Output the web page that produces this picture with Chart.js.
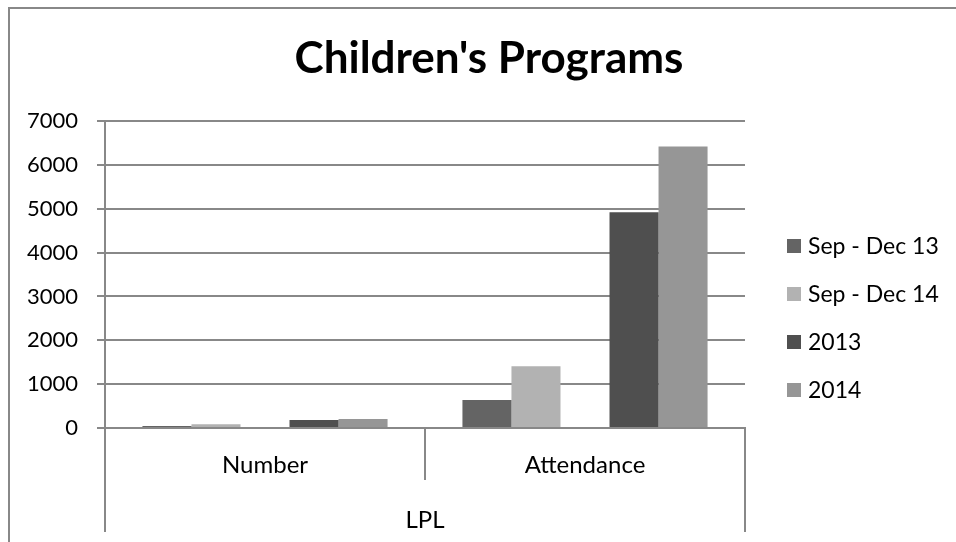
<!DOCTYPE html>
<html>
<head>
<meta charset="utf-8">
<script src="https://cdn.jsdelivr.net/npm/chart.js@4.4.0/dist/chart.umd.min.js"></script>
<style>
  html, body { margin: 0; padding: 0; background: #fff; }
  #wrap { position: relative; width: 956px; height: 542px; overflow: hidden; }
  #frame { position: absolute; left: 8px; top: 7px; width: 1000px; height: 600px; border-left: 2px solid #888; border-top: 2px solid #888; }
  #c { position: absolute; left: 0; top: 0; }
</style>
</head>
<body>
<div id="wrap">
  <div id="frame"></div>
  <canvas id="c" width="956" height="542"></canvas>
</div>
<script>
const titleText = "Children's Programs";
const groupLabel = 'LPL';
const categories = ['Number', 'Attendance'];
const seriesNames = ['Sep - Dec 13', 'Sep - Dec 14', '2013', '2014'];
const sepDec13 = [45, 640];
const sepDec14 = [85, 1410];
const year2013 = [180, 4920];
const year2014 = [205, 6420];
const seriesColors = ['#646464', '#b2b2b2', '#4f4f4f', '#969696'];
const yTicks = [0, 1000, 2000, 3000, 4000, 5000, 6000, 7000];

const FONT = 'Lato, "Noto Sans", sans-serif';
const seriesData = [sepDec13, sepDec14, year2013, year2014];

// the source sheet has an empty column between the two pairs
const datasets = [];
seriesData.forEach(function (d, i) {
    if (i === 2) {
        datasets.push({ label: '', data: categories.map(() => null), backgroundColor: 'rgba(0,0,0,0)' });
    }
    datasets.push({ label: seriesNames[i], data: d, backgroundColor: seriesColors[i], borderWidth: 0 });
});

const decorations = {
    id: 'decorations',
    afterDraw(chart) {
        const ctx = chart.ctx;
        const area = chart.chartArea;
        const x = chart.scales.x;
        const mid = (x.getPixelForValue(0) + x.getPixelForValue(1)) / 2;
        ctx.save();
        ctx.strokeStyle = '#888';
        ctx.lineWidth = 2;
        ctx.beginPath();
        ctx.moveTo(area.left, area.bottom); ctx.lineTo(area.left, 532);
        ctx.moveTo(area.right, area.bottom); ctx.lineTo(area.right, 532);
        ctx.moveTo(mid, area.bottom); ctx.lineTo(mid, 480);
        ctx.stroke();

        ctx.fillStyle = '#000';
        ctx.textAlign = 'center';
        ctx.textBaseline = 'middle';
        ctx.font = '24px ' + FONT;
        categories.forEach(function (c, i) {
            ctx.fillText(c, x.getPixelForValue(i), 465);
        });
        ctx.fillText(groupLabel, (area.left + area.right) / 2, 520);

        ctx.font = 'bold 44px ' + FONT;
        ctx.fillText(titleText, 489, 59);

        // legend
        ctx.font = '23px ' + FONT;
        ctx.textAlign = 'left';
        seriesNames.forEach(function (n, i) {
            const y = 246 + i * 48;
            ctx.fillStyle = seriesColors[i];
            ctx.fillRect(787, y - 7, 14, 14);
            ctx.fillStyle = '#000';
            ctx.fillText(n, 808, y + 1);
        });
        ctx.restore();
    }
};

new Chart(document.getElementById('c').getContext('2d'), {
    type: 'bar',
    data: { labels: categories, datasets: datasets },
    options: {
        responsive: false,
        animation: false,
        layout: { padding: { left: 0, top: 121, right: 211, bottom: 114 } },
        datasets: { bar: { categoryPercentage: 0.766, barPercentage: 1 } },
        plugins: { legend: { display: false }, tooltip: { enabled: false } },
        scales: {
            x: {
                afterFit(scale) { scale.height = 0; },
                ticks: { display: false },
                grid: { display: false },
                border: { display: true, color: '#888', width: 2 }
            },
            y: {
                min: 0,
                max: 7000,
                afterFit(scale) { scale.width = 105; },
                afterBuildTicks(scale) { scale.ticks = yTicks.map(v => ({ value: v })); },
                ticks: {
                    padding: 19,
                    color: '#000',
                    font: { family: FONT, size: 22 },
                    callback: v => String(v)
                },
                grid: { color: '#888', lineWidth: 2, tickLength: 8 },
                border: { display: true, color: '#888', width: 2 }
            }
        }
    },
    plugins: [decorations]
});
</script>
</body>
</html>
